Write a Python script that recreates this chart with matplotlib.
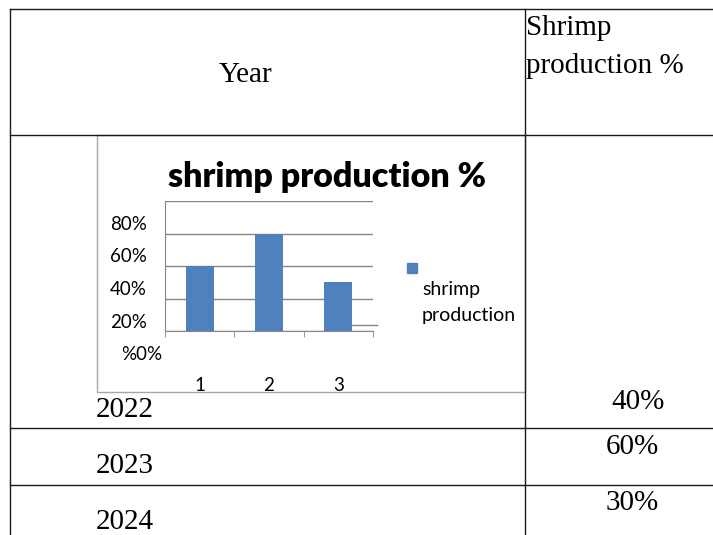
import matplotlib.pyplot as plt
from matplotlib.patches import Rectangle
from matplotlib.transforms import ScaledTranslation

# data
years = ['2022', '2023', '2024']
shares = [40, 60, 30]
share_labels = ['40%', '60%', '30%']
categories = [1, 2, 3]
y_ticks = [0, 20, 40, 60, 80]
y_labels = ['%0%', '20%', '40%', '60%', '80%']

W, H = 713, 535
blue = '#4f81bd'
gray = '#868686'

fig = plt.figure(figsize=(W / 100, H / 100), dpi=100)

# table drawn in pixel coordinates
tab = fig.add_axes([0, 0, 1, 1])
tab.set_xlim(0, W)
tab.set_ylim(H, 0)
tab.axis('off')

line_kw = dict(color='#1a1a1a', lw=1)
for y in [9, 135, 428, 485]:
    tab.plot([10, W], [y, y], **line_kw)
tab.plot([10, 10], [9, H], **line_kw)
tab.plot([525, 525], [9, H], **line_kw)

serif = dict(family='Liberation Serif', fontsize=21, color='black')
tab.text(246, 75, 'Year', ha='center', va='center', **serif)
tab.text(526, 28, 'Shrimp', ha='left', va='center', **serif)
tab.text(526, 66, 'production %', ha='left', va='center', **serif)

year_y = [410, 466, 522]
share_x = [638, 632, 632]
share_y = [402, 447, 503]
for i in range(len(years)):
    tab.text(96, year_y[i], years[i], ha='left', va='center', **serif)
    tab.text(share_x[i], share_y[i], share_labels[i], ha='center', va='center', **serif)

# embedded chart frame, title and legend
tab.add_patch(Rectangle((97, 135), 428, 257, fill=False, ec='#a6a6a6', lw=1))
tab.text(327, 177, 'shrimp production %', family='Lato', weight='heavy',
         fontsize=24.5, ha='center', va='center')
tab.add_patch(Rectangle((407, 263), 10, 10, color=blue))
tab.text(422, 290, 'shrimp', family='Lato', fontsize=14, va='center')
tab.text(422, 315, 'production', family='Lato', fontsize=14, va='center')
tab.plot([352, 377], [325, 325], color=gray, lw=1)

# bar chart
ax = fig.add_axes([165 / W, 1 - 331 / H, 208 / W, 130 / H])
ax.patch.set_alpha(0)
ax.bar(categories, shares, width=0.4, color=blue, zorder=3)
ax.set_xlim(0.5, 3.5)
ax.set_ylim(0, 80)

ax.set_yticks(y_ticks)
ax.set_yticklabels(y_labels, family='Lato', fontsize=13.5)
ax.yaxis.grid(True, color=gray, lw=1)
ax.set_axisbelow(True)
ax.tick_params(axis='y', length=0, pad=13)

ax.set_xticks(categories)
ax.set_xticklabels([str(c) for c in categories], family='Lato', fontsize=13.5)
ax.set_xticks([0.5, 1.5, 2.5, 3.5], minor=True)
ax.tick_params(axis='x', which='major', length=0, pad=33)
ax.tick_params(axis='x', which='minor', length=4.5, color=gray, direction='out')

for s in ['top', 'right']:
    ax.spines[s].set_visible(False)
for s in ['left', 'bottom']:
    ax.spines[s].set_color(gray)

for lbl in ax.get_yticklabels():
    dx = 15 if lbl.get_text() == '%0%' else 0
    lbl.set_transform(lbl.get_transform() + ScaledTranslation(dx / 100, -22 / 100, fig.dpi_scale_trans))

plt.savefig('out.png', dpi=100)
